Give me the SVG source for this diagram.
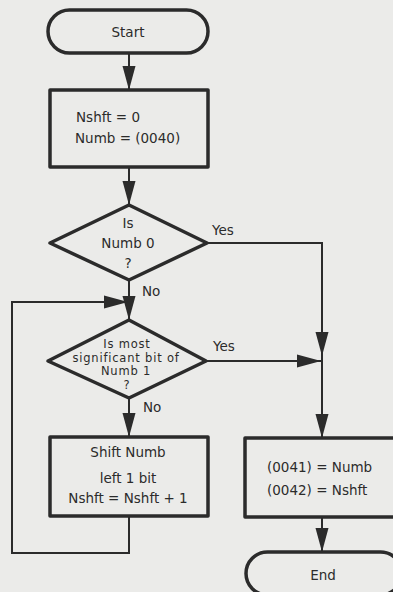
<svg xmlns="http://www.w3.org/2000/svg" width="393" height="592" viewBox="0 0 393 592">
<style>
.bg{fill:#ebebe9}
.shape{fill:#ebebe9;stroke:#2b2b2b;stroke-width:3.5;stroke-linejoin:round}
.conn{fill:none;stroke:#2b2b2b;stroke-width:2}
text{font-family:"DejaVu Sans","Liberation Sans",sans-serif;font-size:13.5px;fill:#2b2b2b}
.c{text-anchor:middle}
.s{font-size:11.5px;letter-spacing:0.8px}
</style>
<defs>
<marker id="ah" markerUnits="userSpaceOnUse" markerWidth="24" markerHeight="14" viewBox="0 0 24 14" refX="24" refY="7" orient="auto">
<path d="M0,0.5 L24,7 L0,13.5 z" fill="#2b2b2b"/>
</marker>
</defs>
<rect class="bg" x="0" y="0" width="393" height="592"/>
<g id="connectors">
<path class="conn" d="M129,53 V90" marker-end="url(#ah)"/>
<path class="conn" d="M129,167 V205" marker-end="url(#ah)"/>
<path class="conn" d="M129,280 V320" marker-end="url(#ah)"/>
<path class="conn" d="M129,398 V437" marker-end="url(#ah)"/>
<path class="conn" d="M129,516 V553 H12 V302 H128" marker-end="url(#ah)"/>
<path class="conn" d="M207,243 H322 V356" marker-end="url(#ah)"/>
<path class="conn" d="M206,361 H321" marker-end="url(#ah)"/>
<path class="conn" d="M322,356 V438" marker-end="url(#ah)"/>
<path class="conn" d="M322,517 V552" marker-end="url(#ah)"/>
</g>
<g id="start">
<rect class="shape" x="48" y="10" width="160" height="43" rx="21.5"/>
<text class="c" x="128" y="37">Start</text>
</g>
<g id="init">
<rect class="shape" x="50" y="90" width="158" height="77"/>
<text x="76" y="122">Nshft = 0</text>
<text x="75" y="143">Numb = (0040)</text>
</g>
<g id="dec1">
<polygon class="shape" points="129,205 207,243 129,280 50,243"/>
<text class="c" x="128" y="228">Is</text>
<text class="c" x="128" y="248">Numb 0</text>
<text class="c" x="128" y="268">?</text>
<text x="212" y="235">Yes</text>
<text x="142" y="296">No</text>
</g>
<g id="dec2">
<polygon class="shape" points="129,320 206,361 129,398 48,361"/>
<text class="c s" x="127" y="348">Is most</text>
<text class="c s" x="126" y="361.5">significant bit of</text>
<text class="c s" x="126" y="375">Numb 1</text>
<text class="c s" x="127" y="388.5">?</text>
<text x="213" y="351">Yes</text>
<text x="143" y="412">No</text>
</g>
<g id="shift">
<rect class="shape" x="50" y="437" width="158" height="79"/>
<text class="c" x="128" y="457">Shift Numb</text>
<text class="c" x="128" y="483">left 1 bit</text>
<text class="c" x="128" y="503">Nshft = Nshft + 1</text>
</g>
<g id="store">
<rect class="shape" x="245" y="438" width="156" height="79"/>
<text x="267" y="472">(0041) = Numb</text>
<text x="267" y="495">(0042) = Nshft</text>
</g>
<g id="end">
<rect class="shape" x="246" y="552" width="156" height="43" rx="21.5"/>
<text class="c" x="323" y="580">End</text>
</g>
</svg>
